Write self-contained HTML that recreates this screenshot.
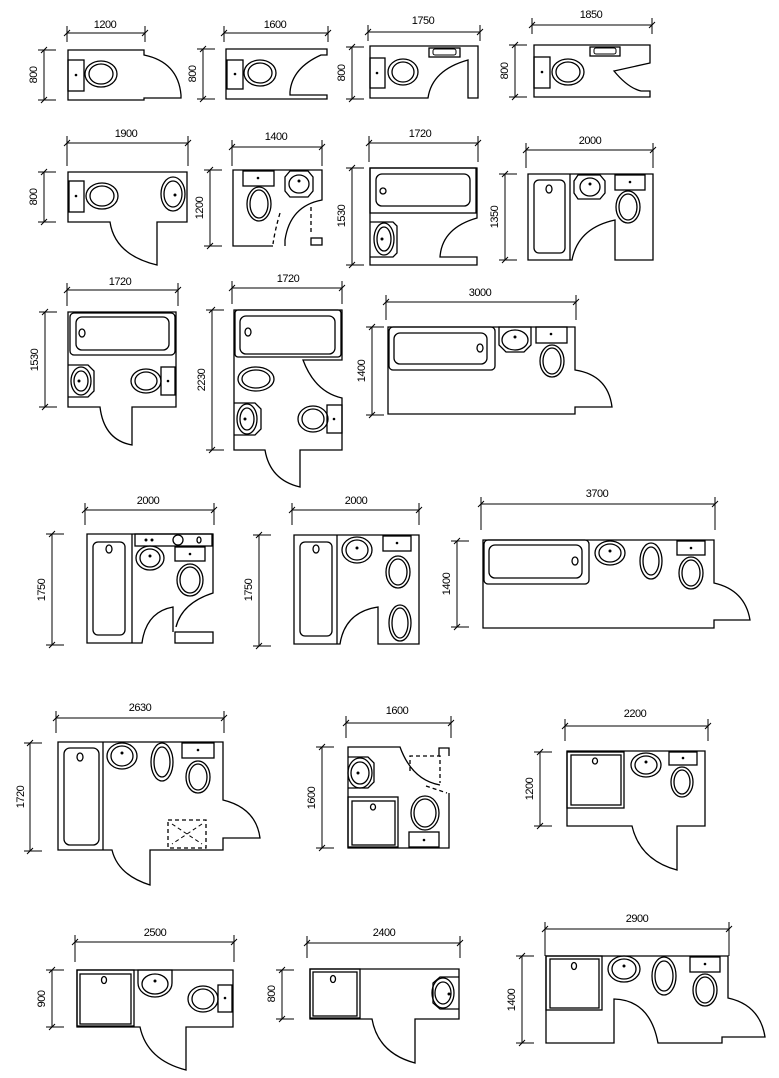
<!DOCTYPE html>
<html><head><meta charset="utf-8"><style>
html,body{margin:0;padding:0;background:#fff}
svg{display:block}
path,rect,ellipse,circle,line,polyline{fill:none;stroke:#000;stroke-width:1.3}
.t{stroke-width:1}
.d{stroke-dasharray:4 3}
.f{fill:#000;stroke:none}
text{font-family:"Liberation Sans",sans-serif;font-size:11px;fill:#000;text-anchor:middle;letter-spacing:-0.5px}
</style></head><body>
<svg width="779" height="1078" viewBox="0 0 779 1078" xmlns="http://www.w3.org/2000/svg">

<!-- R1 1200 -->
<path class="t" d="M67,33H145M67,26V42M145,26V42M64,36l6,-6M142,36l6,-6"/><text x="105" y="28">1200</text>
<path class="t" d="M44,50V100M38,50H56M38,100H56M41,53l6,-6M41,103l6,-6"/><text transform="translate(37,75) rotate(-90)">800</text>
<path d="M68,50H144V55Q178,62 181,95V98H144V100H68Z"/>
<rect x="68" y="60" width="16" height="31"/><circle class="f" cx="76" cy="75" r="1.3"/>
<ellipse cx="101" cy="74" rx="16" ry="13"/><ellipse cx="101" cy="74" rx="12" ry="10"/>

<!-- R2 1600 -->
<path class="t" d="M224,33H328M224,26V42M328,26V42M221,36l6,-6M325,36l6,-6"/><text x="275" y="28">1600</text>
<path class="t" d="M203,49V99M197,49H215M197,99H215M200,52l6,-6M200,102l6,-6"/><text transform="translate(196,74) rotate(-90)">800</text>
<path d="M226,49H327V55H321Q292,68 290,92V95H327V99H226Z"/>
<rect x="227" y="60" width="16" height="29"/><circle class="f" cx="235" cy="74" r="1.3"/>
<ellipse cx="260" cy="73" rx="16" ry="13"/><ellipse cx="260" cy="73" rx="12" ry="10"/>

<!-- R3 1750 -->
<path class="t" d="M368,32H480M368,25V41M480,25V41M365,35l6,-6M477,35l6,-6"/><text x="423" y="24">1750</text>
<path class="t" d="M352,47V99M346,47H364M346,99H364M349,50l6,-6M349,102l6,-6"/><text transform="translate(345,73) rotate(-90)">800</text>
<path d="M370,46H478V98H468V60Q432,70 428,98H370Z"/>
<rect x="429" y="48" width="31" height="9"/><rect class="t" x="433" y="49" width="23" height="6" rx="2"/>
<rect x="370" y="58" width="15" height="30"/><circle class="f" cx="377" cy="73" r="1.3"/>
<ellipse cx="403" cy="72" rx="15" ry="13"/><ellipse cx="403" cy="72" rx="11" ry="10"/>

<!-- R4 1850 -->
<path class="t" d="M532,25H652M532,18V34M652,18V34M529,28l6,-6M649,28l6,-6"/><text x="591" y="18">1850</text>
<path class="t" d="M515,45V97M509,45H527M509,97H527M512,48l6,-6M512,100l6,-6"/><text transform="translate(508,71) rotate(-90)">800</text>
<path d="M534,45H650V63L614,71Q628,88 641,91H650V97H534Z"/>
<rect x="590" y="47" width="30" height="9"/><rect class="t" x="594" y="48" width="22" height="6" rx="2"/>
<rect x="534" y="57" width="16" height="31"/><circle class="f" cx="542" cy="72" r="1.3"/>
<ellipse cx="568" cy="72" rx="16" ry="13"/><ellipse cx="568" cy="72" rx="12" ry="10"/>

<!-- R5 1900 -->
<path class="t" d="M67,143H188M67,136V166M188,136V166M64,146l6,-6M185,146l6,-6"/><text x="126" y="137">1900</text>
<path class="t" d="M44,172V222M38,172H56M38,222H56M41,175l6,-6M41,225l6,-6"/><text transform="translate(37,197) rotate(-90)">800</text>
<path d="M68,172H187V222H157V265Q115,255 110,222H68Z"/>
<rect x="69" y="181" width="15" height="31"/><circle class="f" cx="76" cy="196" r="1.3"/>
<ellipse cx="102" cy="196" rx="16" ry="13"/><ellipse cx="102" cy="196" rx="12" ry="10"/>
<ellipse cx="173" cy="194" rx="12" ry="17"/><ellipse cx="173" cy="194" rx="9" ry="13"/><circle class="f" cx="175" cy="195" r="1.5"/>

<!-- R6 1400 -->
<path class="t" d="M232,147H322M232,140V166M322,140V166M229,150l6,-6M319,150l6,-6"/><text x="276" y="140">1400</text>
<path class="t" d="M210,170V246M204,170H222M204,246H222M207,173l6,-6M207,249l6,-6"/><text transform="translate(203,208) rotate(-90)">1200</text>
<path d="M273,246H233V170H322V200Q290,206 285,240V246"/>
<path class="d" d="M280,213Q275,230 273,244"/>
<path class="d" d="M311,207V233"/>
<rect x="311" y="238" width="11" height="7"/>
<rect x="243" y="171" width="31" height="15"/><circle class="f" cx="258" cy="178" r="1.3"/>
<ellipse cx="259" cy="204" rx="12" ry="17"/><ellipse cx="259" cy="204" rx="9" ry="14"/>
<path d="M290,171H308L313,177V191L308,197H290L285,191V177Z"/><ellipse cx="299" cy="184" rx="10" ry="9"/><circle class="f" cx="299" cy="181" r="1.5"/>

<!-- R7 1720 -->
<path class="t" d="M369,143H478M369,136V162M478,136V162M366,146l6,-6M475,146l6,-6"/><text x="420" y="137">1720</text>
<path class="t" d="M352,168V265M346,168H364M346,265H364M349,171l6,-6M349,268l6,-6"/><text transform="translate(345,216) rotate(-90)">1530</text>
<path d="M370,168H477V218Q442,228 440,257H477V265H370Z"/>
<rect x="370" y="168" width="106" height="45"/><rect x="376" y="174" width="94" height="32" rx="6"/><circle cx="383" cy="191" r="3"/>
<path d="M370,222H393L397,226V253L393,257H370"/>
<ellipse cx="384" cy="239" rx="10" ry="16"/><ellipse cx="384" cy="239" rx="7" ry="12"/><circle class="f" cx="382" cy="239" r="1.5"/>

<!-- R8 2000 -->
<path class="t" d="M526,150H653M526,143V168M653,143V168M523,153l6,-6M650,153l6,-6"/><text x="590" y="144">2000</text>
<path class="t" d="M505,174V260M499,174H517M499,260H517M502,177l6,-6M502,263l6,-6"/><text transform="translate(498,217) rotate(-90)">1350</text>
<path d="M528,174H653V260H615V220Q578,228 572,260H528Z"/>
<path d="M570,174V260"/><rect x="534" y="180" width="31" height="73" rx="5"/><ellipse cx="549" cy="189" rx="3" ry="4"/>
<path d="M578,175H600L605,181V193L600,199H578L574,193V181Z"/><ellipse cx="590" cy="187" rx="10" ry="9"/><circle class="f" cx="590" cy="184" r="1.5"/>
<rect x="615" y="175" width="30" height="15"/><circle class="f" cx="630" cy="182" r="1.3"/>
<ellipse cx="628" cy="207" rx="12" ry="16"/><ellipse cx="628" cy="207" rx="9" ry="13"/>

<!-- R9 1720 -->
<path class="t" d="M67,290H178M67,283V306M178,283V306M64,293l6,-6M175,293l6,-6"/><text x="120" y="285">1720</text>
<path class="t" d="M45,312V407M39,312H57M39,407H57M42,315l6,-6M42,410l6,-6"/><text transform="translate(38,360) rotate(-90)">1530</text>
<path d="M68,312H176V407H132V445Q104,440 100,407H68Z"/>
<rect x="70" y="313" width="105" height="42" rx="4"/><rect x="76" y="317" width="93" height="33" rx="6"/><ellipse cx="82" cy="333" rx="3" ry="4"/>
<path d="M68,365H88L94,371V391L88,397H68"/><ellipse cx="81" cy="381" rx="10" ry="14"/><ellipse cx="81" cy="381" rx="7" ry="10"/><circle class="f" cx="79" cy="381" r="1.5"/>
<rect x="161" y="367" width="14" height="28"/><circle class="f" cx="168" cy="381" r="1.3"/>
<ellipse cx="146" cy="381" rx="15" ry="12"/><ellipse cx="146" cy="381" rx="11" ry="9"/>

<!-- R10 1720 -->
<path class="t" d="M232,288H342M232,281V304M342,281V304M229,291l6,-6M339,291l6,-6"/><text x="288" y="282">1720</text>
<path class="t" d="M212,310V450M206,310H224M206,450H224M209,313l6,-6M209,453l6,-6"/><text transform="translate(205,380) rotate(-90)">2230</text>
<path d="M234,310H342V360H303Q315,392 342,398V450H300V487Q270,480 265,450H234Z"/>
<rect x="235" y="310" width="106" height="47" rx="3"/><rect x="240" y="316" width="95" height="38" rx="6"/><ellipse cx="248" cy="332" rx="3" ry="4"/>
<ellipse cx="256" cy="379" rx="18" ry="12"/><ellipse cx="256" cy="379" rx="14" ry="9"/>
<path d="M234,403H255L261,409V429L255,435H234"/><ellipse cx="247" cy="419" rx="10" ry="15"/><ellipse cx="247" cy="419" rx="7" ry="11"/><circle class="f" cx="245" cy="419" r="1.5"/>
<rect x="327" y="405" width="15" height="28"/><circle class="f" cx="334" cy="419" r="1.3"/>
<ellipse cx="313" cy="419" rx="15" ry="13"/><ellipse cx="313" cy="419" rx="11" ry="10"/>

<!-- R11 3000 -->
<path class="t" d="M386,302H576M386,295V320M576,295V320M383,305l6,-6M573,305l6,-6"/><text x="480" y="296">3000</text>
<path class="t" d="M372,327V415M366,327H384M366,415H384M369,330l6,-6M369,418l6,-6"/><text transform="translate(365,371) rotate(-90)">1400</text>
<path d="M388,327H575V370Q608,375 612,407H575V414H388Z"/>
<rect x="389" y="327" width="106" height="43" rx="4"/><rect x="394" y="333" width="93" height="31" rx="6"/><ellipse cx="480" cy="348" rx="3" ry="4"/>
<path d="M499,327H531V345L524,352H506L499,345Z"/><ellipse cx="515" cy="340" rx="13" ry="10"/><circle class="f" cx="515" cy="337" r="1.5"/>
<rect x="536" y="327" width="31" height="16"/><circle class="f" cx="551" cy="334" r="1.3"/>
<ellipse cx="552" cy="361" rx="12" ry="16"/><ellipse cx="552" cy="361" rx="9" ry="13"/>

<!-- R12 2000 -->
<path class="t" d="M85,510H214M85,503V525M214,503V525M82,513l6,-6M211,513l6,-6"/><text x="148" y="504">2000</text>
<path class="t" d="M52,534V645M46,534H64M46,645H64M49,537l6,-6M49,648l6,-6"/><text transform="translate(45,590) rotate(-90)">1750</text>
<path d="M173,632V607Q146,612 142,643H87V534H213V593Q182,603 176,627"/>
<rect x="175" y="632" width="38" height="11"/>
<path d="M132,534V643"/><rect x="93" y="542" width="32" height="93" rx="5"/><ellipse cx="109" cy="549" rx="3" ry="4"/>
<rect x="135" y="534" width="77" height="12"/><circle class="f" cx="146" cy="540" r="1.5"/><circle class="f" cx="152" cy="540" r="1.5"/><ellipse cx="178" cy="540" rx="5" ry="5"/><ellipse cx="199" cy="540" rx="2" ry="3"/>
<ellipse cx="150" cy="558" rx="14" ry="12"/><ellipse cx="150" cy="558" rx="10" ry="9"/><circle class="f" cx="150" cy="556" r="1.5"/>
<rect x="175" y="547" width="30" height="14"/><circle class="f" cx="190" cy="554" r="1.3"/>
<ellipse cx="190" cy="580" rx="13" ry="16"/><ellipse cx="190" cy="580" rx="10" ry="13"/>

<!-- R13 2000 -->
<path class="t" d="M292,510H419M292,503V525M419,503V525M289,513l6,-6M416,513l6,-6"/><text x="356" y="504">2000</text>
<path class="t" d="M259,535V646M253,535H271M253,646H271M256,538l6,-6M256,649l6,-6"/><text transform="translate(252,590) rotate(-90)">1750</text>
<path d="M294,535H419V644H378V607Q345,612 340,644H294Z"/>
<path d="M337,535V644"/><rect x="300" y="542" width="32" height="94" rx="5"/><ellipse cx="316" cy="549" rx="3" ry="4"/>
<ellipse cx="357" cy="550" rx="15" ry="13"/><ellipse cx="357" cy="550" rx="11" ry="10"/><circle class="f" cx="357" cy="548" r="1.5"/>
<rect x="383" y="536" width="28" height="15"/><circle class="f" cx="397" cy="543" r="1.3"/>
<ellipse cx="398" cy="572" rx="12" ry="16"/><ellipse cx="398" cy="572" rx="9" ry="13"/>
<ellipse cx="400" cy="623" rx="11" ry="18"/><ellipse cx="400" cy="623" rx="8" ry="15"/>

<!-- R14 3700 -->
<path class="t" d="M481,504H715M481,497V530M715,497V530M478,507l6,-6M712,507l6,-6"/><text x="597" y="497">3700</text>
<path class="t" d="M457,541V627M451,541H469M451,627H469M454,544l6,-6M454,630l6,-6"/><text transform="translate(450,584) rotate(-90)">1400</text>
<path d="M483,540H714V583Q745,590 750,620H714V628H483Z"/>
<rect x="484" y="540" width="105" height="44" rx="4"/><rect x="489" y="545" width="93" height="33" rx="6"/><ellipse cx="575" cy="561" rx="3" ry="4"/>
<ellipse cx="610" cy="553" rx="15" ry="12"/><ellipse cx="610" cy="553" rx="11" ry="9"/><circle class="f" cx="610" cy="551" r="1.5"/>
<ellipse cx="651" cy="561" rx="11" ry="18"/><ellipse cx="651" cy="561" rx="8" ry="14"/>
<rect x="677" y="541" width="28" height="14"/><circle class="f" cx="691" cy="548" r="1.3"/>
<ellipse cx="691" cy="573" rx="12" ry="16"/><ellipse cx="691" cy="573" rx="9" ry="13"/>

<!-- R15 2630 -->
<path class="t" d="M56,718H224M56,711V733M224,711V733M53,721l6,-6M221,721l6,-6"/><text x="140" y="711">2630</text>
<path class="t" d="M30,743V851M24,743H42M24,851H42M27,746l6,-6M27,854l6,-6"/><text transform="translate(24,797) rotate(-90)">1720</text>
<path d="M58,742H223V800Q256,808 260,838H223V850H150V885Q118,875 112,850H58Z"/>
<path d="M103,742V850"/><rect x="64" y="748" width="35" height="97" rx="6"/><ellipse cx="80" cy="757" rx="3" ry="4"/>
<ellipse cx="122" cy="756" rx="15" ry="13"/><ellipse cx="122" cy="756" rx="11" ry="10"/><circle class="f" cx="122" cy="753" r="1.5"/>
<ellipse cx="162" cy="762" rx="11" ry="19"/><ellipse cx="162" cy="762" rx="8" ry="15"/>
<rect x="182" y="743" width="32" height="15"/><circle class="f" cx="198" cy="750" r="1.3"/>
<ellipse cx="198" cy="777" rx="12" ry="16"/><ellipse cx="198" cy="777" rx="9" ry="13"/>
<rect class="d" x="168" y="820" width="38" height="28"/><path class="d t" d="M172,824L202,844M202,824L172,844"/>

<!-- R16 1600 -->
<path class="t" d="M346,723H451M346,716V738M451,716V738M343,726l6,-6M448,726l6,-6"/><text x="397" y="714">1600</text>
<path class="t" d="M322,747V848M316,747H334M316,848H334M319,750l6,-6M319,851l6,-6"/><text transform="translate(315,798) rotate(-90)">1600</text>
<path d="M449,793V848H348V747H400Q412,780 440,785"/>
<path d="M439,756V748H449V756"/>
<path class="d" d="M410,771V756H440V783"/><path class="d" d="M426,786L447,793"/>
<path d="M348,757H368L374,763V782L368,788H348"/><ellipse cx="360" cy="773" rx="12" ry="15"/><ellipse cx="360" cy="773" rx="9" ry="11"/><circle class="f" cx="358" cy="773" r="1.5"/>
<rect x="348" y="797" width="50" height="50"/><rect x="352" y="801" width="43" height="44"/><ellipse cx="373" cy="807" rx="2.5" ry="3"/>
<ellipse cx="425" cy="813" rx="14" ry="17"/><ellipse cx="425" cy="813" rx="11" ry="14"/>
<rect x="409" y="832" width="30" height="15"/><circle class="f" cx="424" cy="840" r="1.3"/>

<!-- R17 2200 -->
<path class="t" d="M565,726H708M565,719V741M708,719V741M562,729l6,-6M705,729l6,-6"/><text x="635" y="717">2200</text>
<path class="t" d="M540,752V826M534,752H552M534,826H552M537,755l6,-6M537,829l6,-6"/><text transform="translate(533,789) rotate(-90)">1200</text>
<path d="M567,751H705V826H677V870Q640,860 632,826H567Z"/>
<rect x="567" y="752" width="57" height="56"/><rect x="571" y="755" width="50" height="50"/><ellipse cx="595" cy="761" rx="2.5" ry="3"/>
<ellipse cx="646" cy="765" rx="15" ry="12"/><ellipse cx="646" cy="765" rx="11" ry="9"/><circle class="f" cx="646" cy="762" r="1.5"/>
<rect x="669" y="752" width="28" height="13"/><circle class="f" cx="683" cy="758" r="1.3"/>
<ellipse cx="682" cy="782" rx="11" ry="15"/><ellipse cx="682" cy="782" rx="8" ry="12"/>

<!-- R18 2500 -->
<path class="t" d="M75,942H234M75,935V962M234,935V962M72,945l6,-6M231,945l6,-6"/><text x="155" y="936">2500</text>
<path class="t" d="M52,970V1027M46,970H64M46,1027H64M49,973l6,-6M49,1030l6,-6"/><text transform="translate(45,999) rotate(-90)">900</text>
<path d="M77,970H233V1027H186V1070Q147,1060 140,1027H77Z"/>
<rect x="77" y="970" width="57" height="56"/><rect x="80" y="974" width="51" height="50"/><ellipse cx="104" cy="980" rx="2.5" ry="3.5"/>
<path d="M138,970H172V983A17,14 0 0 1 138,983Z"/><ellipse cx="155" cy="984" rx="13" ry="10"/><circle class="f" cx="155" cy="981" r="1.5"/>
<ellipse cx="203" cy="999" rx="15" ry="13"/><ellipse cx="203" cy="999" rx="11" ry="10"/>
<rect x="218" y="985" width="14" height="27"/><circle class="f" cx="225" cy="998" r="1.3"/>

<!-- R19 2400 -->
<path class="t" d="M307,943H460M307,936V958M460,936V958M304,946l6,-6M457,946l6,-6"/><text x="384" y="936">2400</text>
<path class="t" d="M282,970V1019M276,970H294M276,1019H294M279,973l6,-6M279,1022l6,-6"/><text transform="translate(275,994) rotate(-90)">800</text>
<path d="M310,969H459V1019H415V1063Q378,1053 372,1019H310Z"/>
<rect x="310" y="969" width="50" height="49"/><rect x="313" y="972" width="44" height="44"/><ellipse cx="333" cy="979" rx="2.5" ry="3.5"/>
<path d="M459,977H440L433,983V1003L440,1009H459"/><ellipse cx="443" cy="993" rx="11" ry="15"/><ellipse cx="443" cy="993" rx="8" ry="11"/><circle class="f" cx="449" cy="994" r="1.5"/>

<!-- R20 2900 -->
<path class="t" d="M545,929H729M545,922V956M729,922V956M542,932l6,-6M726,932l6,-6"/><text x="637" y="922">2900</text>
<path class="t" d="M522,956V1043M516,956H534M516,1043H534M519,959l6,-6M519,1046l6,-6"/><text transform="translate(515,1000) rotate(-90)">1400</text>
<path d="M546,956H728V998Q760,1005 765,1037H722V1043H658Q650,1000 614,999V1043H546Z"/>
<rect x="546" y="956" width="56" height="54"/><rect x="550" y="959" width="49" height="49"/><ellipse cx="574" cy="966" rx="2.5" ry="3.5"/>
<ellipse cx="624" cy="969" rx="16" ry="13"/><ellipse cx="624" cy="969" rx="12" ry="10"/><circle class="f" cx="624" cy="966" r="1.5"/>
<ellipse cx="664" cy="976" rx="12" ry="19"/><ellipse cx="664" cy="976" rx="9" ry="15"/>
<rect x="690" y="957" width="30" height="15"/><circle class="f" cx="705" cy="964" r="1.3"/>
<ellipse cx="705" cy="990" rx="12" ry="16"/><ellipse cx="705" cy="990" rx="9" ry="13"/>

</svg>
</body></html>
